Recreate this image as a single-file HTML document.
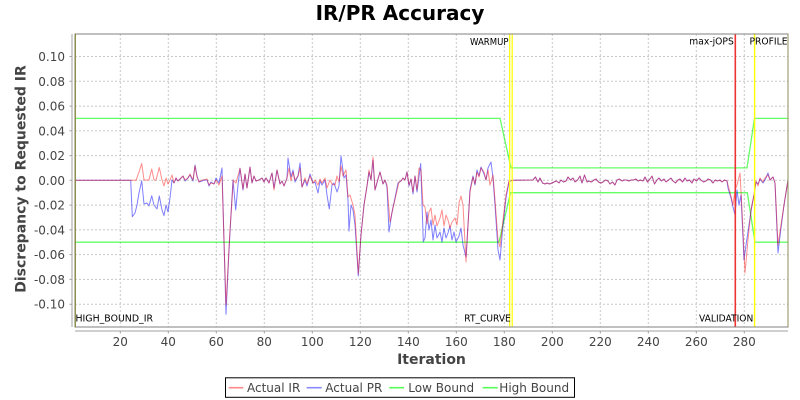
<!DOCTYPE html>
<html><head><meta charset="utf-8"><style>
html,body{margin:0;padding:0;background:#fff;}
svg{display:block;}
text{font-family:"DejaVu Sans","Liberation Sans",sans-serif;}
</style></head><body>
<svg width="800" height="400" viewBox="0 0 800 400" xmlns="http://www.w3.org/2000/svg">
<rect x="0" y="0" width="800" height="400" fill="#fff"/>
<text x="400" y="20" font-size="20" font-weight="bold" text-anchor="middle" fill="#000">IR/PR Accuracy</text>
<rect x="75" y="34" width="713" height="293" fill="#fff"/>
<g stroke="#c8c8c8" stroke-width="1" stroke-dasharray="2,2" fill="none">
<path d="M120.3 34V327M168.3 34V327M216.3 34V327M264.3 34V327M312.3 34V327M360.3 34V327M408.3 34V327M456.3 34V327M504.3 34V327M552.3 34V327M600.3 34V327M648.3 34V327M696.3 34V327M744.3 34V327"/>
<path d="M75 56.5H788M75 81.3H788M75 106.1H788M75 130.8H788M75 155.6H788M75 180.3H788M75 205.1H788M75 229.9H788M75 254.6H788M75 279.4H788M75 304.2H788"/>
</g>
<g fill="none" stroke="#00ff00" stroke-opacity="0.6" stroke-width="1.3">
<polyline points="75,118.4 500,118.4 511,167.9 747,167.9 754.5,118.4 788,118.4"/>
<polyline points="75,242.2 499,242.2 510.5,192.7 747.3,192.7 755,242.2 788,242.2"/>
</g>
<polyline fill="none" stroke="#0000ff" stroke-opacity="0.5" stroke-width="1" stroke-linejoin="round" points="75,180.3 130.7,180.3 132.3,216.7 135,213 137,205 139,193 141.7,180.7 144,204 147,203 149,206 151.7,195.7 154,205 157,209 159.3,196 162,210 164,215.7 166,205 168,212 170,198 172,180 174,183 176,178 178,181 181,178 183,176 185,181 188,178 190,175 193,181 195,165 197,176 199,182 202,181 204,180 207,180 209,186 211,182 214,184 216,178 219,183 222,168 226,314.3 229,250 233,180 235.7,210 238,185 240,168.3 243,190 245,174 247,188 250,167 252,183 254,176 256,181 259,180 262,178 264,182 266,178 269,183 272,173 274,188 277,170 280,184 282,181 284,186 287,178 288,158 291,177 293,170 295,182 298,176 300,163 302,187 305,180 307,186 310,174 313,183 315,182 318,193 320,181 322,185 325,180 327,195 329.3,209 332,185 334,183 337,192 339,186 341,156 344,178 346,175 348,200 349,231 351,205 353,210 355,225 358.3,276 361,235 364,205 367,186 369,172 371,180 373,160 375,190 378,179 380,172 383,184 385,180 387,187 389,232 392,212 395,198 398,183 401,181 403,178 405,180 407,172 409,186 411,179 413,194 415,176 417,192 420.7,163.5 423.3,241.7 425,238 427,212 429,230 431,220 433,240 435,225 437,238 440,232 442,242 444,228 446,238 448,233 450,226 452,240 454,232 456,242 459,236 461,228 463,245 466,257 468,225 470,190 473,176 475,185 477,170 479,176 481,167 484,174 486,180 488,168 491,162 493,178 495,205 498,250 500,260 503,225 506,198 509,182 512,180.3 533,180 535.5,177 538,182 540,178 542.5,183 545,184 547,183 549.5,184 552,183 554,182 556.5,181 559,183 561,180 563.5,182 566,181 568,177 570.5,180 573,178 575,182 577.5,180 580,176 582,183 584.5,175 587,182 589,181 591.5,182 594,180 596,179 598.5,182 601,183 603,182 605.5,180 608,181 610,184 612.5,182 615,185 617,180 619.5,179 622,181 624,180 626.5,180 629,181 631,180 633.5,180 636,179 638,181 640.5,180 643,181 645,177 647.5,182 650,179 652,176 654.5,184 657,180 659,178 661.5,181 664,179 666,182 668.5,180 671,178 673,181 675.5,183 678,180 680,179 682.5,182 685,178 687,181 689.5,180 692,183 694,179 696.5,181 699,178 701,180 703.5,182 706,181 708,179 710.5,180 713,183 715,180 717.5,181 720,180 722,182 724.5,180 727,181 728,188 731,198 733,207 735,215 737,190 739,205 741,195 744,260 746,245 749,225 752,205 754,195 756,182 758,184 760,179 763,183 765,180 768,173 770,180 773,177 775,183 778,253 781,228 784,205 788,180"/>
<polyline fill="none" stroke="#ff0000" stroke-opacity="0.45" stroke-width="1" stroke-linejoin="round" points="75,180.3 136,180.3 139,172 141.7,163.5 144,180 149,180 151.7,169 154,180 156,180 159.3,167.5 162,180 164,186 166,178 168,184 170,180 172,175 174,183 176,178 178,181 181,178 183,176 185,180 188,178 190,174 193,180 195,166 197,177 199,182 202,180 204,180 207,179 209,185 211,183 214,184 216,180 219,185 222,176 226,305 230,230 233.3,180 236,183 240,168.3 243,189 245,174 247,188 250,167 252,183 254,176 256,181 259,180 262,178 264,182 266,178 269,183 272,173 274,190 277,170 280,184 282,181 284,186 287,178 289,168 291,181 293,172 295,180 298,176 300,168 302,187 305,178 307,184 310,176 313,183 315,180 318,185 320,179 322,183 325,178 327,188 330,180 332,184 335,185 337,176 339,182 341,166 343,176 346,170 348,197 350,195 353,205 355,215 358.3,274 361,235 364,205 367,186 369,170 371,180 373,157 375,190 378,179 380,172 383,184 385,180 387,185 390,222 393,208 396,195 399,182 401,181 403,178 405,180 407,172 409,185 411,179 413,192 415,176 417,190 419,168 421,170 423,205 425,207 427,224 429,212 431,208 433,225 435,215 437,226 440,218 442,210 444,226 446,215 448,220 450,228 452,222 455,218 457,225 459,203 461,196 463,205 466,262 468,225 470,192 473,177 475,184 477,172 479,177 481,168 484,172 486,180 488,170 490,185 493,175 495,200 498,240 500,247 503,220 506,195 509,181 512,180.3 533,180 535.5,177 538,182 540,178 542.5,183 545,184 547,183 549.5,184 552,183 554,182 556.5,181 559,183 561,180 563.5,182 566,181 568,177 570.5,180 573,178 575,182 577.5,180 580,176 582,183 584.5,175 587,182 589,181 591.5,182 594,180 596,179 598.5,182 601,183 603,182 605.5,180 608,181 610,184 612.5,182 615,185 617,180 619.5,179 622,181 624,180 626.5,180 629,181 631,180 633.5,180 636,179 638,181 640.5,180 643,181 645,177 647.5,182 650,179 652,176 654.5,184 657,180 659,178 661.5,181 664,179 666,182 668.5,180 671,178 673,181 675.5,183 678,180 680,179 682.5,182 685,178 687,181 689.5,180 692,183 694,179 696.5,181 699,178 701,180 703.5,182 706,181 708,179 710.5,180 713,183 715,180 717.5,181 720,180 722,182 724.5,180 727,181 728,185 731,196 733,205 735,190 737,185 740,173 742,210 745,273 748,240 751,210 754,195 756,181 758,186 760,178 763,182 765,178 768,175 770,180 773,177 775,183 778,245 781,225 784,205 788,180"/>
<g fill="none">
<line x1="509.7" y1="34" x2="509.7" y2="327" stroke="#ffff00" stroke-width="1.2"/>
<line x1="512.2" y1="34" x2="512.2" y2="327" stroke="#ffff00" stroke-width="1.2"/>
<line x1="735.3" y1="34" x2="735.3" y2="327" stroke="#ee3333" stroke-width="1.6"/>
<line x1="754.6" y1="34" x2="754.6" y2="327" stroke="#ffff00" stroke-width="1.4"/>
</g>
<g font-size="9.5" fill="#000">
<text x="470" y="45" textLength="38.5" lengthAdjust="spacingAndGlyphs">WARMUP</text>
<text x="689.3" y="44.5" textLength="44.5" lengthAdjust="spacingAndGlyphs">max-jOPS</text>
<text x="749.5" y="44.5" textLength="38" lengthAdjust="spacingAndGlyphs">PROFILE</text>
<text x="75.5" y="321.7" textLength="77.5" lengthAdjust="spacingAndGlyphs">HIGH_BOUND_IR</text>
<text x="464.3" y="321.7" textLength="46.5" lengthAdjust="spacingAndGlyphs">RT_CURVE</text>
<text x="699" y="321.7" textLength="54.3" lengthAdjust="spacingAndGlyphs">VALIDATION</text>
</g>
<rect x="75" y="34" width="713" height="293" fill="none" stroke="#808080" stroke-width="1"/>
<line x1="75.3" y1="34" x2="75.3" y2="327" stroke="#85853a" stroke-width="1.2"/>
<line x1="788" y1="34" x2="788" y2="327" stroke="#8c8c5a" stroke-width="1"/>
<g stroke="#a0a0a0" stroke-width="1" fill="none">
<line x1="72" y1="34" x2="72" y2="327"/>
<line x1="75" y1="331" x2="788" y2="331"/>
<path d="M69.5 56.5H72M69.5 81.3H72M69.5 106.1H72M69.5 130.8H72M69.5 155.6H72M69.5 180.3H72M69.5 205.1H72M69.5 229.9H72M69.5 254.6H72M69.5 279.4H72M69.5 304.2H72"/>
<path d="M120.3 331V333.5M168.3 331V333.5M216.3 331V333.5M264.3 331V333.5M312.3 331V333.5M360.3 331V333.5M408.3 331V333.5M456.3 331V333.5M504.3 331V333.5M552.3 331V333.5M600.3 331V333.5M648.3 331V333.5M696.3 331V333.5M744.3 331V333.5"/>
</g>
<g font-size="12" fill="#444" text-anchor="end">
<text x="65" y="61">0.10</text>
<text x="65" y="85.8">0.08</text>
<text x="65" y="110.6">0.06</text>
<text x="65" y="135.3">0.04</text>
<text x="65" y="160.1">0.02</text>
<text x="65" y="184.8">0.00</text>
<text x="65" y="209.6">-0.02</text>
<text x="65" y="234.4">-0.04</text>
<text x="65" y="259.1">-0.06</text>
<text x="65" y="283.9">-0.08</text>
<text x="65" y="308.7">-0.10</text>
</g>
<g font-size="12" fill="#444" text-anchor="middle">
<text x="120.3" y="346">20</text>
<text x="168.3" y="346">40</text>
<text x="216.3" y="346">60</text>
<text x="264.3" y="346">80</text>
<text x="312.3" y="346">100</text>
<text x="360.3" y="346">120</text>
<text x="408.3" y="346">140</text>
<text x="456.3" y="346">160</text>
<text x="504.3" y="346">180</text>
<text x="552.3" y="346">200</text>
<text x="600.3" y="346">220</text>
<text x="648.3" y="346">240</text>
<text x="696.3" y="346">260</text>
<text x="744.3" y="346">280</text>
</g>
<text x="431.5" y="364" font-size="14" font-weight="bold" fill="#444" text-anchor="middle">Iteration</text>
<text transform="translate(25.3,179) rotate(-90)" font-size="14" font-weight="bold" fill="#444" text-anchor="middle">Discrepancy to Requested IR</text>
<rect x="225.5" y="377.8" width="349" height="19.5" fill="#fff" stroke="#000" stroke-width="1"/>
<g stroke-width="1.6" fill="none">
<line x1="228.7" y1="387.7" x2="243.3" y2="387.7" stroke="#ff8888"/>
<line x1="306.7" y1="387.7" x2="321.7" y2="387.7" stroke="#8888ff"/>
<line x1="389.3" y1="387.7" x2="404" y2="387.7" stroke="#55ff55"/>
<line x1="482.7" y1="387.7" x2="497.7" y2="387.7" stroke="#55ff55"/>
</g>
<g font-size="12" fill="#444">
<text x="247" y="392">Actual IR</text>
<text x="325.3" y="392">Actual PR</text>
<text x="408.3" y="392">Low Bound</text>
<text x="499.3" y="392">High Bound</text>
</g>
</svg>
</body></html>
